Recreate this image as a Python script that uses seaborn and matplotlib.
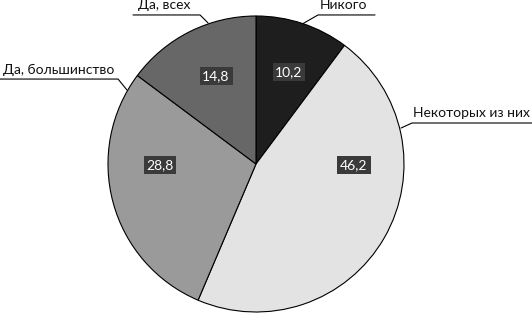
import matplotlib
matplotlib.use("Agg")
import matplotlib.pyplot as plt
import seaborn as sns

# answer categories and shares (%)
categories = ["Никого", "Некоторых из них", "Да, большинство", "Да, всех"]
values = [10.2, 46.2, 28.8, 14.8]
colors = ["#1e1e1e", "#e3e3e3", "#9a9a9a", "#676767"]

# layout of callouts (pie centre = 0,0, radius = 1)
# (edge point, elbow point, end of shelf x, text position)
callouts = [
    ((0.318, 0.949), (0.419, 1.007), 0.804, (0.59, 1.074)),
    ((0.980, 0.243), (1.054, 0.277), 1.865, (1.453, 0.345)),
    ((-0.872, 0.500), (-0.932, 0.574), -1.730, (-1.334, 0.635)),
    ((-0.324, 0.953), (-0.378, 1.007), -0.831, (-0.618, 1.074)),
]
value_pos = [(0.223, 0.622), (0.662, -0.007), (-0.649, -0.007), (-0.270, 0.595)]

sns.set_theme(style="white")
plt.rcParams["font.family"] = ["Lato", "DejaVu Sans"]

fig = plt.figure(figsize=(5.32, 3.13), dpi=100)
ax = fig.add_axes([0, 0, 1, 1])

ax.pie(values, colors=colors, startangle=90, counterclock=False,
       wedgeprops=dict(edgecolor="black", linewidth=0.8))

for (edge, elbow, shelf_x, tpos), name in zip(callouts, categories):
    ax.plot([edge[0], elbow[0], shelf_x], [edge[1], elbow[1], elbow[1]],
            color="black", lw=0.8, clip_on=False)
    ax.text(tpos[0], tpos[1], name, ha="center", va="center",
            fontsize=10, color="#111111")

for (x, y), v in zip(value_pos, values):
    ax.text(x, y, f"{v:.1f}".replace(".", ","), ha="center", va="center",
            fontsize=10, color="white",
            bbox=dict(boxstyle="square,pad=0.2", fc="#3a3a3a", ec="none"))

ax.set_xlim(-256 / 148, 276 / 148)
ax.set_ylim(-149 / 148, 164 / 148)
ax.set_aspect("auto")
ax.axis("off")

fig.savefig("out.png", dpi=100, facecolor="white")
